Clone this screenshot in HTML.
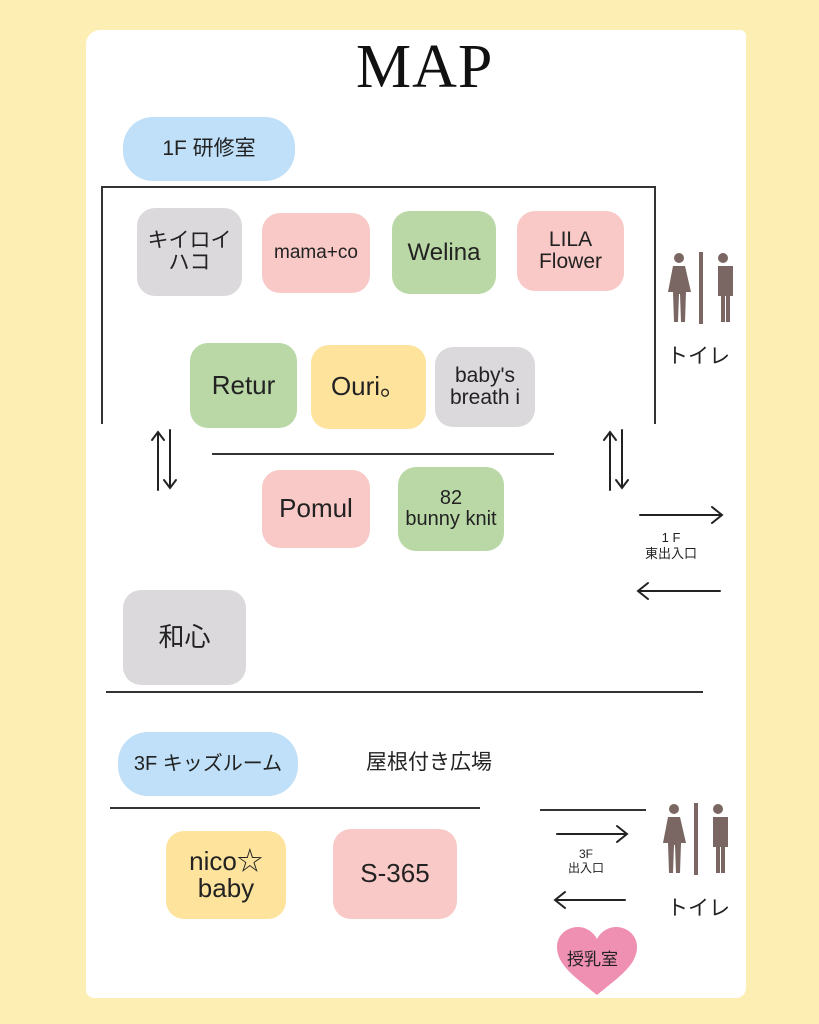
<!DOCTYPE html>
<html><head><meta charset="utf-8"><style>
body{margin:0;width:819px;height:1024px;background:#fdeeb3;position:relative;overflow:hidden;font-family:"Liberation Sans","Noto Sans CJK JP",sans-serif;color:#222}
.paper{position:absolute;left:86px;top:30px;width:660px;height:968px;background:#fff;border-radius:14px 6px 10px 8px}
.b{position:absolute;display:flex;align-items:center;justify-content:center;text-align:center;border-radius:18px;line-height:1.05}
.g{background:#dcd9dc}.p{background:#f8c9c6}.gr{background:#b9d8a6}.y{background:#fde39c}.bl{background:#bfe0f8}
.l{position:absolute;background:#333;height:2px}
.v{position:absolute;background:#333;width:2px}
.t{position:absolute;white-space:nowrap}
</style></head><body>
<div class="paper"></div>
<div class="t" style="left:356px;top:32px;font-family:'Liberation Serif',serif;font-size:62px;letter-spacing:1px;color:#111">MAP</div>
<div class="b bl" style="left:123px;top:117px;width:172px;height:64px;border-radius:30px;font-size:21px">1F 研修室</div>
<div class="l" style="left:101px;top:186px;width:555px"></div>
<div class="v" style="left:101px;top:186px;height:238px"></div>
<div class="v" style="left:654px;top:186px;height:238px"></div>
<div class="b g" style="left:137px;top:208px;width:105px;height:88px;font-size:21px">キイロイ<br>ハコ</div>
<div class="b p" style="left:262px;top:213px;width:108px;height:80px;font-size:19px">mama+co</div>
<div class="b gr" style="left:392px;top:211px;width:104px;height:83px;font-size:24px">Welina</div>
<div class="b p" style="left:517px;top:211px;width:107px;height:80px;font-size:21px">LILA<br>Flower</div>
<div class="b gr" style="left:190px;top:343px;width:107px;height:85px;font-size:26px">Retur</div>
<div class="b y" style="left:311px;top:345px;width:115px;height:84px;font-size:26px">Ouri。</div>
<div class="b g" style="left:435px;top:347px;width:100px;height:80px;font-size:21px">baby's<br>breath i</div>
<div class="l" style="left:212px;top:453px;width:342px"></div>
<svg style="position:absolute;left:0;top:0" width="819" height="1024" fill="none" stroke="#222" stroke-width="2" stroke-linecap="round">
<path d="M158 490V432M152 440l6-8 6 8M170 430v58M164 480l6 8 6-8"/>
<path d="M610 490V432M604 440l6-8 6 8M622 430v58M616 480l6 8 6-8"/>
<path d="M640 515h82M712 507l10 8-10 8"/>
<path d="M638 591h82M648 583l-10 8 10 8"/>
<path d="M557 834h70M617 826l10 8-10 8"/>
<path d="M555 900h70M565 892l-10 8 10 8"/>
</svg>
<div class="b p" style="left:262px;top:470px;width:108px;height:78px;font-size:26px">Pomul</div>
<div class="b gr" style="left:398px;top:467px;width:106px;height:84px;font-size:20px">82<br>bunny knit</div>
<div class="t" style="left:645px;top:530px;font-size:13px;text-align:center;line-height:1.2">1 F<br>東出入口</div>
<div class="b g" style="left:123px;top:590px;width:123px;height:95px;font-size:26px">和心</div>
<div class="l" style="left:106px;top:691px;width:597px"></div>
<div class="b bl" style="left:118px;top:732px;width:180px;height:64px;border-radius:30px;font-size:20px">3F キッズルーム</div>
<div class="t" style="left:366px;top:746px;font-size:21px">屋根付き広場</div>
<div class="l" style="left:110px;top:807px;width:370px"></div>
<div class="l" style="left:540px;top:809px;width:106px"></div>
<div class="b y" style="left:166px;top:831px;width:120px;height:88px;font-size:26px">nico☆<br>baby</div>
<div class="b p" style="left:333px;top:829px;width:124px;height:90px;font-size:26px">S-365</div>
<div class="t" style="left:568px;top:848px;font-size:12px;text-align:center;line-height:1.15">3F<br>出入口</div>
<div class="t" style="left:667px;top:340px;font-size:21px">トイレ</div>
<div class="t" style="left:667px;top:892px;font-size:21px">トイレ</div>
<svg style="position:absolute;left:665px;top:252px" width="72" height="72" viewBox="0 0 72 72" fill="#7a6663">
<circle cx="14" cy="6" r="5"/><path d="M8 14h12l6 26h-5l-1 30h-4l-1-28h-1l-1 28h-4l-1-30h-5z"/>
<rect x="34" y="0" width="4" height="72"/>
<circle cx="58" cy="6" r="5"/><path d="M48 14h20v30h-3v26h-4v-26h-1v26h-4v-26h-3v-30h-2z"/></svg>
<svg style="position:absolute;left:660px;top:803px" width="72" height="72" viewBox="0 0 72 72" fill="#7a6663">
<circle cx="14" cy="6" r="5"/><path d="M8 14h12l6 26h-5l-1 30h-4l-1-28h-1l-1 28h-4l-1-30h-5z"/>
<rect x="34" y="0" width="4" height="72"/>
<circle cx="58" cy="6" r="5"/><path d="M48 14h20v30h-3v26h-4v-26h-1v26h-4v-26h-3v-30h-2z"/></svg>
<svg style="position:absolute;left:555px;top:925px" width="84" height="72" viewBox="0 0 84 72"><path d="M42 70C20 52 2 40 2 22 2 10 12 2 23 2c9 0 16 6 19 12 3-6 10-12 19-12 11 0 21 8 21 20 0 18-18 30-40 48z" fill="#ef8fb1"/></svg>
<div class="t" style="left:567px;top:945px;font-size:17px">授乳室</div>
</body></html>
